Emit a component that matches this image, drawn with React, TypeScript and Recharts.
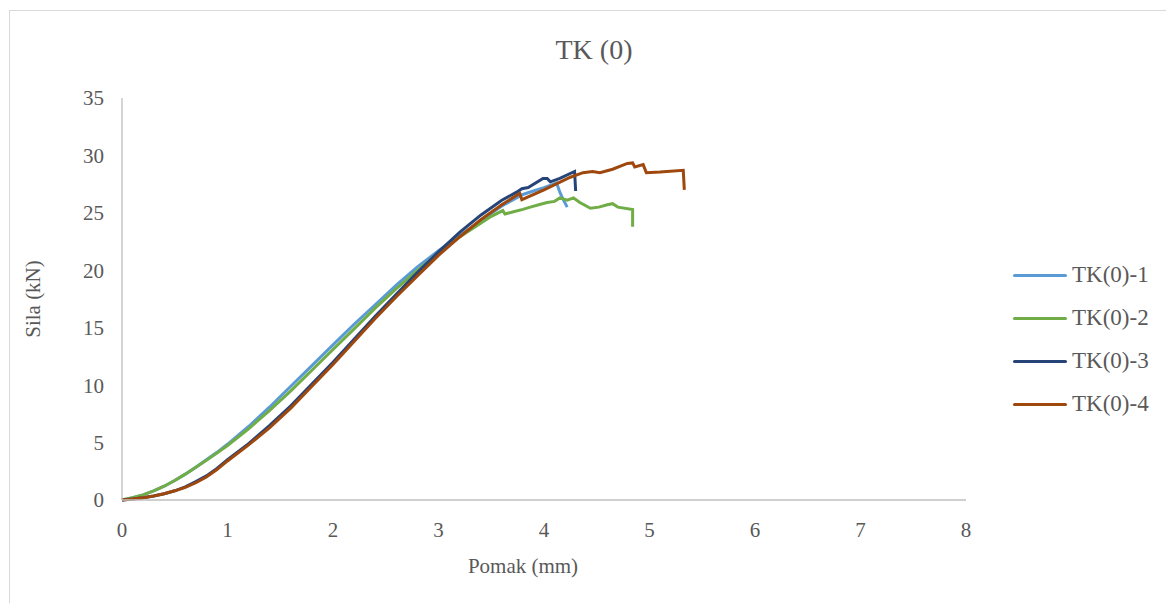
import { LineChart, Line, XAxis, YAxis } from "recharts";

// Pomak (mm) / Sila (kN) for each specimen
const tk1X = [0, 0.1, 0.2, 0.3, 0.4, 0.5, 0.6, 0.7, 0.8, 0.9, 1.0, 1.2, 1.4, 1.6, 1.8, 2.0, 2.2, 2.4, 2.6, 2.8, 3.0, 3.2, 3.4, 3.6, 3.7, 3.8, 3.9, 4.0, 4.12, 4.15, 4.18, 4.22];
const tk1Y = [0, 0.2, 0.45, 0.8, 1.2, 1.7, 2.25, 2.85, 3.5, 4.15, 4.85, 6.4, 8.1, 9.9, 11.7, 13.5, 15.3, 17.0, 18.7, 20.3, 21.7, 23.0, 24.3, 25.6, 26.1, 26.6, 26.9, 27.2, 27.6, 26.8, 26.2, 25.5];

const tk2X = [0, 0.1, 0.2, 0.3, 0.4, 0.5, 0.6, 0.7, 0.8, 0.9, 1.0, 1.2, 1.4, 1.6, 1.8, 2.0, 2.2, 2.4, 2.6, 2.8, 3.0, 3.2, 3.4, 3.5, 3.61, 3.63, 3.71, 3.8, 3.87, 3.95, 4.03, 4.1, 4.15, 4.22, 4.28, 4.34, 4.44, 4.52, 4.6, 4.65, 4.7, 4.84, 4.84];
const tk2Y = [0, 0.2, 0.45, 0.8, 1.2, 1.7, 2.25, 2.85, 3.45, 4.1, 4.75, 6.2, 7.8, 9.5, 11.3, 13.1, 14.9, 16.7, 18.4, 20.0, 21.5, 22.9, 24.1, 24.7, 25.2, 24.9, 25.1, 25.3, 25.5, 25.7, 25.9, 26.0, 26.3, 26.1, 26.3, 25.9, 25.4, 25.5, 25.7, 25.8, 25.5, 25.3, 23.8];

const tk3X = [0, 0.1, 0.2, 0.3, 0.4, 0.5, 0.6, 0.7, 0.8, 0.9, 1.0, 1.2, 1.4, 1.6, 1.8, 2.0, 2.2, 2.4, 2.6, 2.8, 3.0, 3.2, 3.4, 3.6, 3.74, 3.79, 3.85, 3.99, 4.03, 4.06, 4.15, 4.29, 4.3];
const tk3Y = [0, 0.08, 0.2, 0.35, 0.55, 0.8, 1.15, 1.6, 2.1, 2.75, 3.5, 4.9, 6.5, 8.2, 10.1, 12.0, 14.0, 16.0, 17.9, 19.8, 21.6, 23.3, 24.8, 26.1, 26.8, 27.1, 27.2, 28.0, 28.0, 27.7, 28.0, 28.6, 26.9];

const tk4X = [0, 0.1, 0.2, 0.3, 0.4, 0.5, 0.6, 0.7, 0.8, 0.9, 1.0, 1.2, 1.4, 1.6, 1.8, 2.0, 2.2, 2.4, 2.6, 2.8, 3.0, 3.2, 3.4, 3.6, 3.77, 3.79, 4.0, 4.25, 4.37, 4.46, 4.53, 4.65, 4.79, 4.84, 4.86, 4.94, 4.97, 5.1, 5.32, 5.33];
const tk4Y = [0, 0.08, 0.2, 0.35, 0.55, 0.8, 1.1, 1.5, 2.0, 2.65, 3.4, 4.8, 6.3, 8.0, 9.9, 11.8, 13.8, 15.8, 17.7, 19.5, 21.3, 22.9, 24.4, 25.7, 26.7, 26.15, 27.0, 28.1, 28.5, 28.6, 28.5, 28.8, 29.3, 29.35, 29.0, 29.2, 28.5, 28.55, 28.7, 27.0];

const xTicks = [0, 1, 2, 3, 4, 5, 6, 7, 8];
const yTicks = [0, 5, 10, 15, 20, 25, 30, 35];

const toPoints = (xs: number[], ys: number[]) => xs.map((x, i) => ({ x, y: ys[i] }));

const series = [
  { name: "TK(0)-1", color: "#5B9BD5", data: toPoints(tk1X, tk1Y) },
  { name: "TK(0)-2", color: "#70AD47", data: toPoints(tk2X, tk2Y) },
  { name: "TK(0)-3", color: "#264478", data: toPoints(tk3X, tk3Y) },
  { name: "TK(0)-4", color: "#9E480E", data: toPoints(tk4X, tk4Y) },
];

const FONT = '"Liberation Serif", "Times New Roman", serif';
const TEXT = "#595959";
const AXIS = "#bfbfbf";

export default function App() {
  return (
    <div
      style={{
        position: "fixed",
        left: 0,
        top: 0,
        width: 1166,
        height: 603,
        overflow: "hidden",
        background: "#fff",
        fontFamily: FONT,
        color: TEXT,
      }}
    >
      <div
        style={{
          position: "absolute",
          left: 9,
          top: 10,
          width: 1170,
          height: 600,
          border: "1px solid #d9d9d9",
        }}
      />
      <div style={{ position: "absolute", left: 0, top: 0 }}>
        <LineChart
          width={1166}
          height={603}
          margin={{ top: 98, right: 200, bottom: 43, left: 62 }}
        >
          <XAxis
            dataKey="x"
            type="number"
            domain={[0, 8]}
            ticks={xTicks}
            allowDuplicatedCategory={false}
            height={60}
            tickLine={false}
            tickMargin={16}
            axisLine={{ stroke: AXIS, strokeWidth: 1.3 }}
            tick={{ fill: TEXT, fontSize: 21, fontFamily: FONT }}
          />
          <YAxis
            dataKey="y"
            type="number"
            domain={[0, 35]}
            ticks={yTicks}
            width={60}
            tickLine={false}
            tickMargin={12}
            axisLine={{ stroke: AXIS, strokeWidth: 1.3 }}
            tick={{ fill: TEXT, fontSize: 21, fontFamily: FONT }}
          />
          {series.map((s) => (
            <Line
              key={s.name}
              data={s.data}
              dataKey="y"
              name={s.name}
              type="linear"
              stroke={s.color}
              strokeWidth={3}
              dot={false}
              activeDot={false}
              isAnimationActive={false}
            />
          ))}
        </LineChart>
      </div>

      <div
        style={{
          position: "absolute",
          left: 594,
          top: 50,
          transform: "translate(-50%, -50%)",
          fontSize: 28,
          whiteSpace: "nowrap",
        }}
      >
        TK (0)
      </div>

      <div
        style={{
          position: "absolute",
          left: 523,
          top: 566,
          transform: "translate(-50%, -50%)",
          fontSize: 21,
          whiteSpace: "nowrap",
        }}
      >
        Pomak (mm)
      </div>

      <div
        style={{
          position: "absolute",
          left: 33,
          top: 299,
          transform: "translate(-50%, -50%) rotate(-90deg)",
          fontSize: 21,
          whiteSpace: "nowrap",
        }}
      >
        Sila (kN)
      </div>

      {series.map((s, i) => (
        <div
          key={s.name}
          style={{
            position: "absolute",
            left: 1013,
            top: 275 + i * 43,
            transform: "translateY(-50%)",
            display: "flex",
            alignItems: "center",
            whiteSpace: "nowrap",
            fontSize: 23,
          }}
        >
          <span
            style={{
              display: "inline-block",
              width: 54,
              height: 3,
              borderRadius: 2,
              background: s.color,
              marginRight: 5,
            }}
          />
          {s.name}
        </div>
      ))}
    </div>
  );
}
